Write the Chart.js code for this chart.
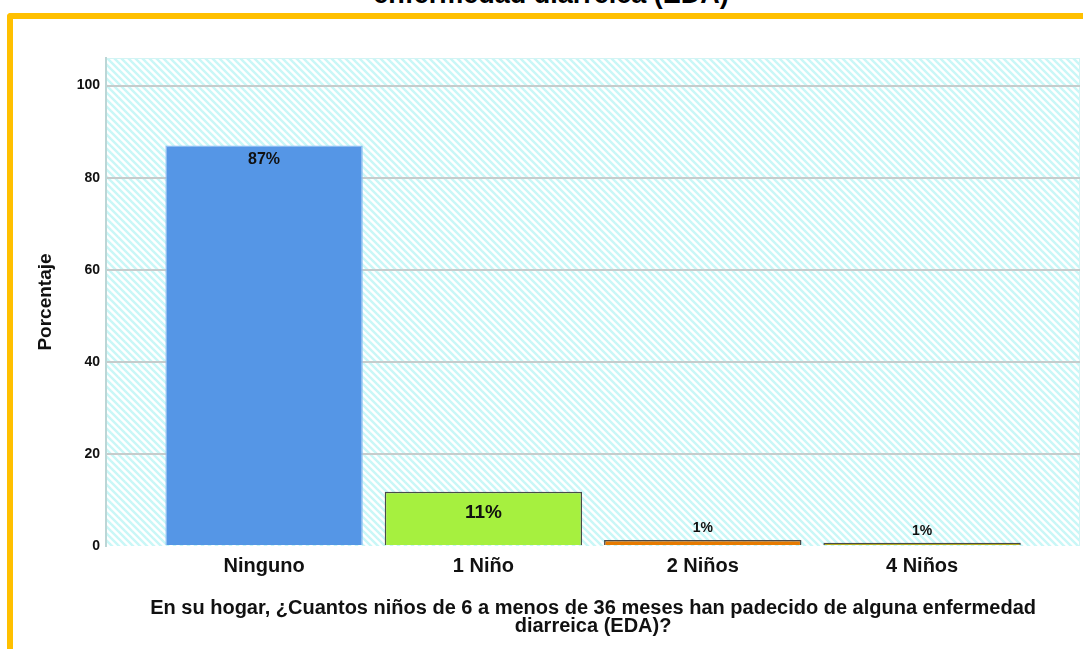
<!DOCTYPE html>
<html lang="es">
<head>
    <meta charset="UTF-8">
    <title>Enfermedad diarreica (EDA)</title>
    <script src="https://cdn.jsdelivr.net/npm/chart.js"></script>
    <style>
        html, body {
            margin: 0;
            padding: 0;
            background: #ffffff;
            overflow: hidden;
            font-family: "Liberation Sans", Arial, sans-serif;
        }
        #frame {
            position: absolute;
            left: 7px;
            top: 13px;
            width: 1200px;
            height: 800px;
            border-left: 6px solid #ffc000;
            border-top: 6px solid #ffc000;
            border-top-left-radius: 4px;
        }
        #topTitle {
            position: absolute;
            left: 0;
            width: 1102px;
            top: -19px;
            text-align: center;
            font-weight: bold;
            font-size: 27px;
            line-height: 27px;
            color: #000;
            white-space: nowrap;
        }
        #wrap {
            position: absolute;
            left: 0;
            top: 0;
            width: 1083px;
            height: 649px;
        }
    </style>
</head>
<body>
    <div id="frame"></div>
    <div id="topTitle">enfermedad diarreica (EDA)</div>
    <div id="wrap"><canvas id="edaChart"></canvas></div>

    <script>
        // Datos
        const categories = ['Ninguno', '1 Niño', '2 Niños', '4 Niños'];
        const percentages = [87.0, 11.8, 1.3, 0.7];
        const barLabels = ['87%', '11%', '1%', '1%'];
        const yTicks = [0, 20, 40, 60, 80, 100];

        const barColors = ['#5596e6', '#a6f03f', '#e67a00', '#b4ac1e'];
        const barBorders = ['#8cbcf2', '#4a4a4a', '#4a4a4a', '#4a4a4a'];
        const labelFonts = [16, 19, 14, 14];

        const FONT = '"Liberation Sans", Arial, sans-serif';

        // diagonal hatched background
        function makeHatch() {
            const s = 7;
            const c = document.createElement('canvas');
            c.width = s;
            c.height = s;
            const g = c.getContext('2d');
            g.fillStyle = '#ffffff';
            g.fillRect(0, 0, s, s);
            g.strokeStyle = '#c9f7f7';
            g.lineWidth = 2.5;
            for (const off of [-s, 0, s]) {
                g.beginPath();
                g.moveTo(off - 1, -1);
                g.lineTo(off + s + 1, s + 1);
                g.stroke();
            }
            return g.createPattern(c, 'repeat');
        }

        const plotBackground = {
            id: 'plotBackground',
            beforeDraw(chart) {
                const { ctx, chartArea: a } = chart;
                ctx.save();
                ctx.fillStyle = makeHatch();
                ctx.fillRect(a.left, a.top, a.right - a.left, a.bottom - a.top);
                ctx.strokeStyle = '#d2f4f4';
                ctx.lineWidth = 1;
                ctx.beginPath();
                ctx.moveTo(a.left, a.top + 0.5);
                ctx.lineTo(a.right - 0.5, a.top + 0.5);
                ctx.lineTo(a.right - 0.5, a.bottom);
                ctx.stroke();
                ctx.restore();
            }
        };

        const valueLabels = {
            id: 'valueLabels',
            afterDatasetsDraw(chart) {
                const { ctx } = chart;
                const meta = chart.getDatasetMeta(0);
                ctx.save();
                ctx.fillStyle = '#111';
                ctx.textAlign = 'center';
                ctx.textBaseline = 'middle';
                meta.data.forEach((bar, i) => {
                    ctx.font = 'bold ' + labelFonts[i] + 'px ' + FONT;
                    let y;
                    if (percentages[i] > 5) {
                        y = bar.y + (i === 0 ? 14 : 21);
                    } else {
                        y = bar.y - 12;
                    }
                    ctx.fillText(barLabels[i], bar.x, y);
                });
                ctx.restore();
            }
        };

        const points = categories.map((c, i) => ({ x: i, y: percentages[i] }));

        const ctx = document.getElementById('edaChart').getContext('2d');
        new Chart(ctx, {
            type: 'bar',
            data: {
                datasets: [{
                    data: points,
                    backgroundColor: barColors,
                    borderColor: barBorders,
                    borderWidth: 1.5,
                    categoryPercentage: 1,
                    barPercentage: 0.9
                }]
            },
            options: {
                responsive: true,
                maintainAspectRatio: false,
                animation: false,
                layout: {
                    padding: { left: 34, right: 3, top: 58, bottom: 14 }
                },
                plugins: {
                    legend: { display: false },
                    tooltip: { enabled: false },
                    title: { display: false }
                },
                scales: {
                    x: {
                        type: 'linear',
                        offset: false,
                        min: -0.72,
                        max: 3.72,
                        grid: { display: false, drawTicks: false },
                        border: { display: false },
                        afterBuildTicks(scale) {
                            scale.ticks = categories.map((c, i) => ({ value: i }));
                        },
                        ticks: {
                            padding: 8,
                            color: '#111',
                            font: { family: FONT, size: 20, weight: 'bold' },
                            callback: (v) => categories[v]
                        },
                        title: {
                            display: true,
                            text: ['En su hogar, ¿Cuantos niños de 6 a menos de 36 meses han padecido de alguna enfermedad', 'diarreica (EDA)?'],
                            color: '#111',
                            font: { family: FONT, size: 20, weight: 'bold', lineHeight: 0.9 },
                            padding: { top: 13, bottom: 0 }
                        }
                    },
                    y: {
                        min: 0,
                        max: 106,
                        afterBuildTicks(scale) {
                            scale.ticks = yTicks.map(v => ({ value: v }));
                        },
                        grid: {
                            color: (c) => c.tick && c.tick.value === 0 ? 'rgba(0,0,0,0)' : '#c6cccc',
                            lineWidth: 2,
                            drawTicks: false
                        },
                        border: { display: true, color: '#bcd6d6', width: 2 },
                        ticks: {
                            padding: 6,
                            color: '#111',
                            font: { family: FONT, size: 14, weight: 'bold' }
                        },
                        title: {
                            display: true,
                            text: 'Porcentaje',
                            color: '#111',
                            font: { family: FONT, size: 19, weight: 'bold' },
                            padding: { top: 0, bottom: 14 }
                        }
                    }
                }
            },
            plugins: [plotBackground, valueLabels]
        });
    </script>
</body>
</html>
